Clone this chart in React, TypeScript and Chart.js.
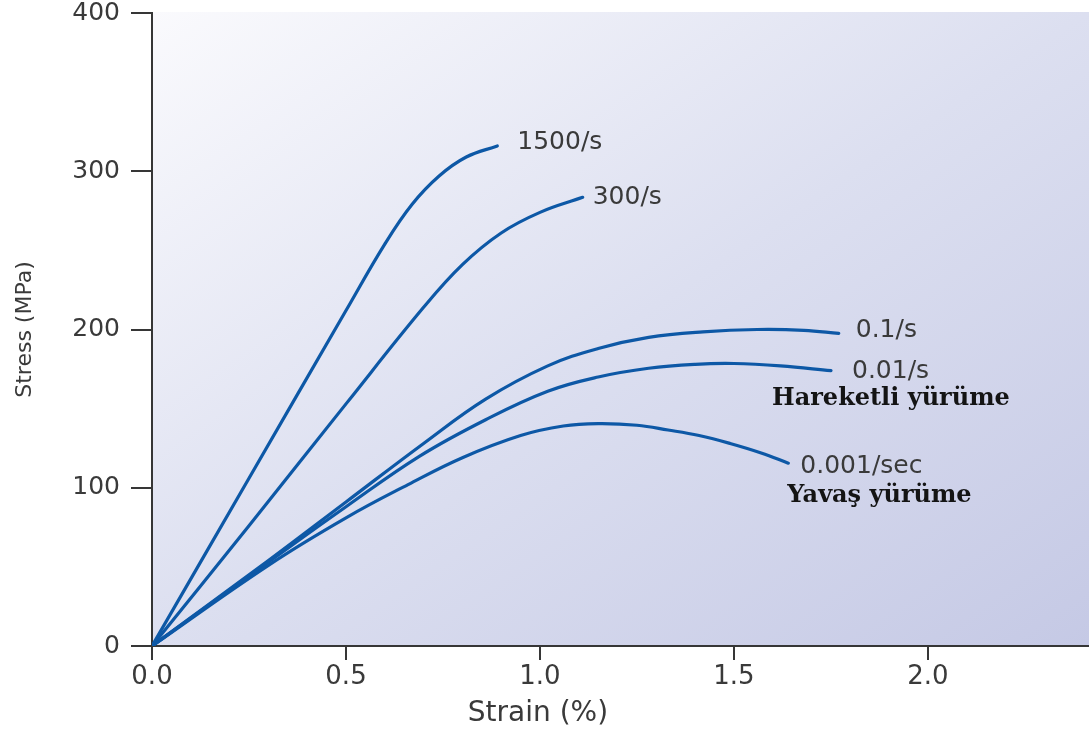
import React, { useEffect, useRef } from "react";
import { Chart, registerables } from "chart.js";

Chart.register(...registerables);

// ---- data ----
const xTickValues = [0, 0.5, 1.0, 1.5, 2.0];
const yTickValues = [0, 100, 200, 300, 400];
const xMax = 2.415;
const yMax = 400;

const seriesNames = ["1500/s", "300/s", "0.1/s", "0.01/s", "0.001/sec"];
const subLabels = ["", "", "", "Hareketli yürüme", "Yavaş yürüme"];

const strain1500 = [0, 0.25, 0.5, 0.6, 0.67, 0.74, 0.81, 0.89];
const stress1500 = [0, 106, 212, 254, 279, 297, 309, 316];

const strain300 = [0, 0.25, 0.5, 0.7, 0.8, 0.9, 1.0, 1.11];
const stress300 = [0, 76, 153, 214, 241, 261, 274, 283.5];

const strain01 = [0, 0.3, 0.5, 0.7, 0.86, 1.02, 1.15, 1.28, 1.42, 1.56, 1.68, 1.77];
const stress01 = [0, 54, 91, 128, 156, 177, 188, 195, 198.5, 200, 199.5, 197.5];

const strain001 = [0, 0.3, 0.5, 0.69, 0.86, 1.02, 1.15, 1.28, 1.4, 1.5, 1.62, 1.75];
const stress001 = [0, 53, 88, 120, 143, 161, 170, 175.5, 178, 178.5, 177, 174];

const strain0001 = [0, 0.3, 0.5, 0.66, 0.8, 0.95, 1.06, 1.15, 1.25, 1.33, 1.41, 1.49, 1.57, 1.64];
const stress0001 = [0, 51, 81, 102, 119, 133, 139, 140.5, 139.5, 136.5, 133, 128, 122, 115.5];

const strainSeries = [strain1500, strain300, strain01, strain001, strain0001];
const stressSeries = [stress1500, stress300, stress01, stress001, stress0001];

// ---- styles ----
const SANS = "'DejaVu Sans', 'Liberation Sans', Arial, sans-serif";
const SERIF = "'DejaVu Serif', 'Liberation Serif', 'Times New Roman', serif";
const AXIS_COLOR = "#363636";
const TEXT_COLOR = "#3a3a3a";
const LINE_COLOR = "#0d58a6";

// pixel offsets of labels from each curve's last point (text baseline)
const labelOffsets = [
  { dx: 20, dy: 3 },
  { dx: 10, dy: 7 },
  { dx: 17, dy: 4 },
  { dx: 21, dy: 7 },
  { dx: 12, dy: 10 },
];
const subOffsets = [null, null, null, { dx: -59, dy: 34 }, { dx: -1, dy: 39 }];

const backgroundPlugin = {
  id: "plotBackground",
  beforeDraw(chart: any) {
    const { ctx, chartArea: a } = chart;
    if (!a) return;
    const w = a.right - a.left;
    const h = a.bottom - a.top + 1;
    const cx = a.left + w / 2;
    const cy = a.top - 1 + h / 2;
    const dx = h;
    const dy = w;
    const t = ((w / 2) * dx + (h / 2) * dy) / (dx * dx + dy * dy);
    const g = ctx.createLinearGradient(cx - dx * t, cy - dy * t, cx + dx * t, cy + dy * t);
    g.addColorStop(0, "#fafafd");
    g.addColorStop(0.5, "#dcdff0");
    g.addColorStop(1, "#c5c9e5");
    ctx.save();
    ctx.fillStyle = g;
    ctx.fillRect(a.left, a.top - 1, w, h);
    ctx.restore();
  },
};

const labelsPlugin = {
  id: "curveLabels",
  afterDatasetsDraw(chart: any) {
    const { ctx } = chart;
    ctx.save();
    ctx.textAlign = "left";
    ctx.textBaseline = "alphabetic";
    seriesNames.forEach((name, i) => {
      const meta = chart.getDatasetMeta(i);
      const last = meta.data[meta.data.length - 1];
      if (!last) return;
      const off = labelOffsets[i];
      ctx.font = `25px ${SANS}`;
      ctx.fillStyle = TEXT_COLOR;
      ctx.fillText(name, last.x + off.dx, last.y + off.dy);
      const sub = subLabels[i];
      const so = subOffsets[i];
      if (sub && so) {
        ctx.font = `bold 24px ${SERIF}`;
        ctx.fillStyle = "#141414";
        ctx.fillText(sub, last.x + so.dx, last.y + so.dy);
      }
    });
    // x axis title, centred under strain 1.0 as in the original figure
    const xs = chart.scales.x;
    ctx.font = `28px ${SANS}`;
    ctx.fillStyle = TEXT_COLOR;
    ctx.textAlign = "center";
    ctx.fillText("Strain (%)", xs.getPixelForValue(1.0) - 2, chart.chartArea.bottom + 75);
    ctx.restore();
  },
};

export default function App() {
  const ref = useRef<HTMLCanvasElement | null>(null);

  useEffect(() => {
    if (!ref.current) return;
    const datasets = seriesNames.map((name, i) => ({
      label: name,
      data: strainSeries[i].map((x, j) => ({ x, y: stressSeries[i][j] })),
      borderColor: LINE_COLOR,
      backgroundColor: LINE_COLOR,
      borderWidth: 3.2,
      pointRadius: 0,
      tension: 0.4,
      borderCapStyle: "round" as const,
      fill: false,
    }));

    const chart = new Chart(ref.current, {
      type: "line",
      data: { datasets },
      plugins: [backgroundPlugin, labelsPlugin],
      options: {
        animation: false,
        responsive: true,
        maintainAspectRatio: false,
        layout: { padding: { top: 13, right: 0, left: 0, bottom: 0 } },
        plugins: { legend: { display: false }, tooltip: { enabled: false } },
        scales: {
          x: {
            type: "linear",
            min: 0,
            max: xMax,
            afterBuildTicks: (scale: any) => {
              scale.ticks = xTickValues.map((v) => ({ value: v }));
            },
            afterFit: (scale: any) => {
              scale.height = 85;
              scale.paddingLeft = 0;
              scale.paddingRight = 0;
            },
            grid: {
              drawOnChartArea: false,
              drawTicks: true,
              tickLength: 14,
              color: AXIS_COLOR,
              lineWidth: 2,
            },
            border: { display: true, color: AXIS_COLOR, width: 2 },
            ticks: {
              font: { family: SANS, size: 26, lineHeight: 1 },
              color: TEXT_COLOR,
              padding: 4,
              maxRotation: 0,
              callback: (v: any) => Number(v).toFixed(1),
            },
          },
          y: {
            type: "linear",
            min: 0,
            max: yMax,
            afterBuildTicks: (scale: any) => {
              scale.ticks = yTickValues.map((v) => ({ value: v }));
            },
            afterFit: (scale: any) => {
              scale.width = 152;
              scale.paddingTop = 0;
              scale.paddingBottom = 0;
            },
            grid: {
              drawOnChartArea: false,
              drawTicks: true,
              tickLength: 21,
              color: AXIS_COLOR,
              lineWidth: 2,
            },
            border: { display: true, color: AXIS_COLOR, width: 2 },
            ticks: {
              font: { family: SANS, size: 25, lineHeight: 1 },
              color: TEXT_COLOR,
              padding: 11,
              callback: (v: any) => String(v),
            },
            title: {
              display: true,
              text: "Stress (MPa)",
              font: { family: SANS, size: 22 },
              color: TEXT_COLOR,
              padding: { top: 12, bottom: 0 },
            },
          },
        },
      },
    });
    return () => chart.destroy();
  }, []);

  return (
    <div style={{ position: "absolute", left: 0, top: 0, width: 1089, height: 731, background: "#ffffff" }}>
      <canvas ref={ref} />
    </div>
  );
}
